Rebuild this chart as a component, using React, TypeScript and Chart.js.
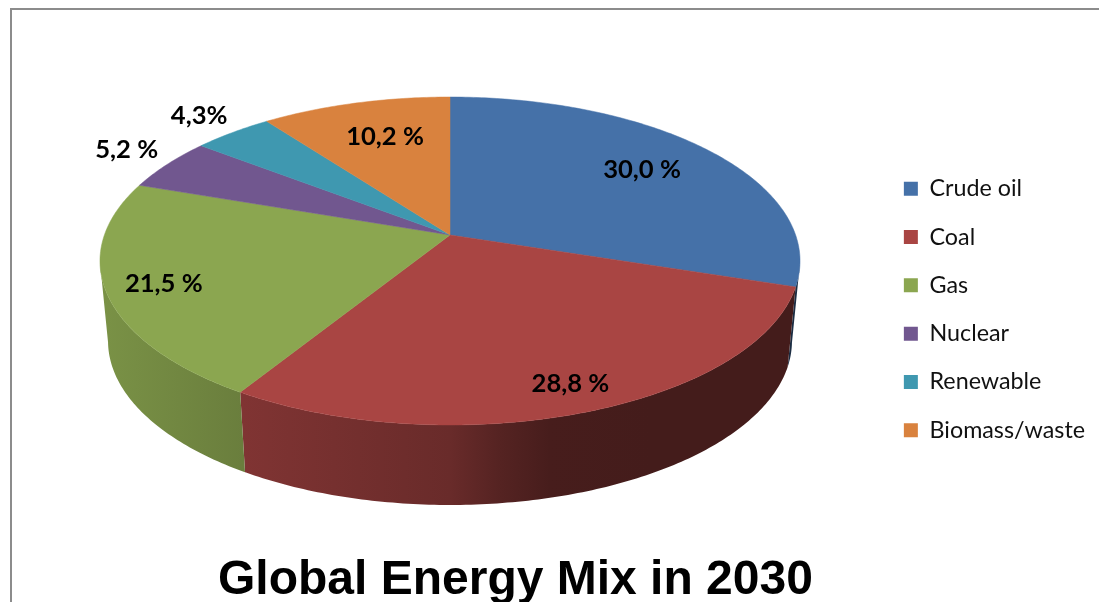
import React, { useEffect, useRef } from "react";
import { Chart, registerables } from "chart.js";

Chart.register(...registerables);

// Share of the global energy mix by source, percent.
const sources = ["Crude oil", "Coal", "Gas", "Nuclear", "Renewable", "Biomass/waste"];
const shares = [30.0, 28.8, 21.5, 5.2, 4.3, 10.2];
const percentSuffixes = [" %", " %", " %", " %", "%", " %"];
const sliceColors = ["#4571a8", "#a94543", "#8ba650", "#71578f", "#3f98b0", "#d9823e"];
const chartTitle = "Global Energy Mix in 2030";

// Perspective of the tilted disc: unit circle (u, v) maps to screen through
// x = CX + R*u/d, y = (A*v + B)/d, with d = 1 + C*v.
const CX = 450;
const R = 345.6;
const A = 122.6;
const B = 235;
const C = -0.1585;
const WALL_DEPTH = 80;
const BASE_SCALE = 0.977;

// Label placement: radial reach as a fraction of the radius, plus a small pixel nudge.
const labelReach = [0.75, 0.86, 0.854, 1.235, 1.195, 0.723];
const labelNudge = [[-4, 1], [3, 1], [5, 1], [20, 1], [4, 1], [6, 1]];

// Brightness of the side wall by screen x.
const wallShade = [[100, 0.88], [243, 0.76], [450, 0.62], [500, 0.5], [550, 0.42], [650, 0.4], [800, 0.4]];

function project(angle: number, reach = 1): [number, number] {
  const u = reach * Math.cos(angle);
  const v = reach * Math.sin(angle);
  const d = 1 + C * v;
  return [CX + (R * u) / d, (A * v + B) / d];
}

function projectBase(angle: number): [number, number] {
  const [x, y] = project(angle);
  return [CX + (x - CX) * BASE_SCALE, y + WALL_DEPTH];
}

function shaded(hex: string, factor: number): string {
  const n = parseInt(hex.slice(1), 16);
  const ch = (s: number) => Math.round(((n >> s) & 255) * factor);
  return `rgb(${ch(16)},${ch(8)},${ch(0)})`;
}

function formatShare(value: number, suffix: string): string {
  return value.toFixed(1).replace(".", ",") + suffix;
}

const tiltedPie = {
  id: "tiltedPie",
  beforeDraw(chart: any) {
    const ctx = chart.ctx;
    ctx.save();
    ctx.strokeStyle = "#8c8c8c";
    ctx.lineWidth = 2;
    ctx.beginPath();
    ctx.moveTo(1099, 9);
    ctx.lineTo(11, 9);
    ctx.lineTo(11, 602);
    ctx.stroke();
    ctx.restore();
  },
  beforeDatasetDraw(chart: any, args: any) {
    const ctx = chart.ctx;
    const arcs = args.meta.data;
    const colors = chart.data.datasets[0].backgroundColor;
    const STEP = Math.PI / 240;
    const x0 = wallShade[0][0];
    const x1 = wallShade[wallShade.length - 1][0];
    // The rim is widest on screen where sin(angle) equals -C; the wall starts there.
    const nearRim = (a: number) => Math.sin(a) >= -C;

    // Side wall: one band per slice, shaded left to right, only on the near part of the rim.
    arcs.forEach((arc: any, i: number) => {
      const rim: number[] = [];
      for (let a = arc.startAngle; a < arc.endAngle; a += STEP) {
        if (nearRim(a)) rim.push(a);
      }
      if (nearRim(arc.endAngle)) rim.push(arc.endAngle);
      if (rim.length < 2) return;
      const gradient = ctx.createLinearGradient(x0, 0, x1, 0);
      wallShade.forEach(([x, s]) => gradient.addColorStop((x - x0) / (x1 - x0), shaded(colors[i], s)));
      ctx.fillStyle = gradient;
      ctx.beginPath();
      rim.forEach((a, k) => {
        const p = project(a);
        if (k === 0) ctx.moveTo(p[0], p[1]);
        else ctx.lineTo(p[0], p[1]);
      });
      for (let k = rim.length - 1; k >= 0; k--) {
        const p = projectBase(rim[k]);
        ctx.lineTo(p[0], p[1]);
      }
      ctx.closePath();
      ctx.fill();
    });

    // Top face of every slice.
    arcs.forEach((arc: any, i: number) => {
      ctx.fillStyle = colors[i];
      ctx.strokeStyle = colors[i];
      ctx.lineWidth = 0.5;
      ctx.beginPath();
      ctx.moveTo(CX, B);
      for (let a = arc.startAngle; a < arc.endAngle; a += STEP) {
        const p = project(a);
        ctx.lineTo(p[0], p[1]);
      }
      const end = project(arc.endAngle);
      ctx.lineTo(end[0], end[1]);
      ctx.closePath();
      ctx.fill();
      ctx.stroke();
    });
    return false;
  },
  afterDatasetsDraw(chart: any) {
    const ctx = chart.ctx;
    const arcs = chart.getDatasetMeta(0).data;
    ctx.save();
    ctx.font = "bold 25.6px Lato";
    ctx.fillStyle = "#000";
    ctx.textAlign = "center";
    ctx.textBaseline = "middle";
    arcs.forEach((arc: any, i: number) => {
      const mid = (arc.startAngle + arc.endAngle) / 2;
      const [x, y] = project(mid, labelReach[i]);
      ctx.fillText(formatShare(shares[i], percentSuffixes[i]), x + labelNudge[i][0], y + labelNudge[i][1]);
    });
    ctx.restore();
  },
};

export default function App() {
  const canvasRef = useRef<HTMLCanvasElement>(null);

  useEffect(() => {
    const chart = new Chart(canvasRef.current as HTMLCanvasElement, {
      type: "pie",
      data: {
        labels: sources,
        datasets: [{ data: shares, backgroundColor: sliceColors, borderWidth: 0 }],
      },
      options: {
        responsive: false,
        animation: false,
        events: [],
        layout: { padding: { left: 152, right: 4, top: 17, bottom: 0 } },
        plugins: {
          tooltip: { enabled: false },
          legend: {
            position: "right",
            labels: {
              boxWidth: 14,
              boxHeight: 14,
              padding: 25,
              color: "#111",
              font: { family: "Lato", size: 23.3 },
            },
          },
          title: {
            display: true,
            text: chartTitle,
            position: "bottom",
            fullSize: false,
            color: "#000",
            padding: 0,
            font: { family: "Liberation Sans", size: 48, weight: "bold", lineHeight: 0.875 },
          },
        },
      },
      plugins: [tiltedPie],
    } as any);
    return () => chart.destroy();
  }, []);

  return (
    <canvas
      ref={canvasRef}
      width={1099}
      height={602}
      style={{ position: "fixed", left: 0, top: 0, display: "block", background: "#fff" }}
    />
  );
}
